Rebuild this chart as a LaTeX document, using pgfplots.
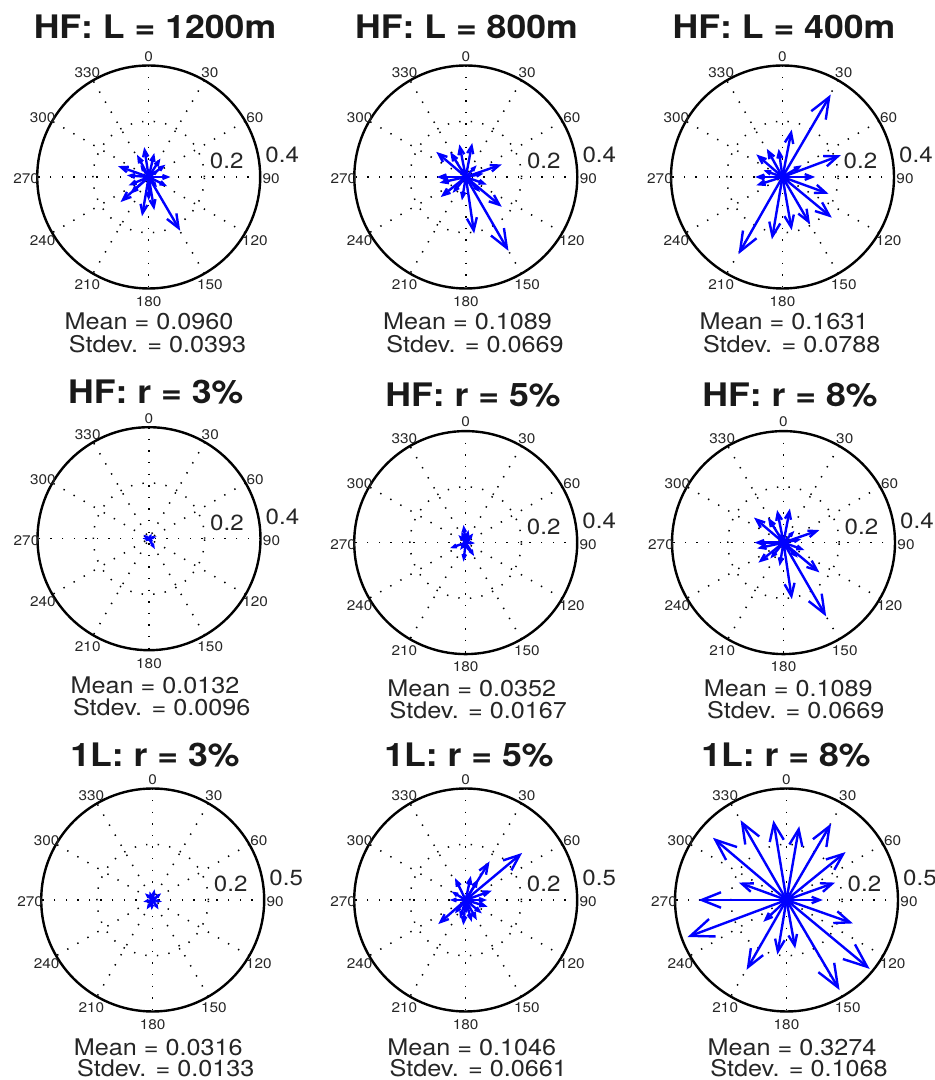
\documentclass[border=0pt]{standalone}
\usepackage{fontspec}
\setmainfont{TeX Gyre Heros}[FakeStretch=1.1]
\usepackage{pgfplots}
\usepackage{pgfplotstable}
\pgfplotsset{compat=1.18}
\usetikzlibrary{arrows.meta}

% HF: L = 1200m
\pgfplotstableread{
u v
0.113 -0.193
-0.101 -0.090
-0.024 -0.141
0.020 -0.119
-0.110 0.039
-0.016 0.107
-0.042 0.080
0.020 0.086
0.060 0.044
0.078 0.000
0.066 -0.033
-0.078 0.006
-0.072 -0.030
0.042 0.066
-0.066 -0.060
0.000 -0.084
-0.030 0.042
0.036 0.024
0.030 -0.036
}\dataA
% HF: L = 800m  (also HF: r = 8%)
\pgfplotstableread{
u v
0.153 -0.265
0.030 -0.203
0.129 -0.107
0.129 0.045
-0.106 0.090
-0.056 0.090
-0.023 0.117
0.023 0.122
-0.104 0.000
-0.094 -0.021
-0.090 -0.072
-0.047 -0.057
-0.014 -0.084
0.075 -0.027
0.063 0.012
0.051 -0.054
0.039 0.042
0.004 -0.036
-0.020 0.036
}\dataB
% HF: L = 400m
\pgfplotstableread{
u v
0.173 0.296
-0.158 -0.277
0.209 0.078
0.177 -0.146
0.165 -0.060
0.117 0.000
0.099 -0.170
0.033 -0.191
-0.038 -0.224
0.033 0.170
-0.014 0.101
-0.056 0.101
-0.094 0.081
-0.098 0.000
-0.094 -0.030
-0.068 0.024
0.069 0.042
}\dataC
% HF: r = 3%
\pgfplotstableread{
u v
0.021 -0.037
-0.020 0.014
0.010 0.018
0.027 0.008
-0.014 -0.010
0.016 -0.010
-0.023 0.001
0.003 0.012
}\dataD
% HF: r = 5%
\pgfplotstableread{
u v
-0.008 0.063
-0.056 -0.020
-0.008 -0.068
0.030 -0.048
0.033 -0.002
0.027 0.033
-0.026 0.027
-0.020 -0.026
0.010 0.045
0.012 -0.032
-0.015 0.040
0.020 0.015
}\dataE
% 1L: r = 3%
\pgfplotstableread{
u v
0.008 0.048
-0.035 0.030
0.038 0.030
-0.042 -0.008
-0.027 -0.042
0.026 -0.042
0.041 -0.008
-0.005 -0.045
-0.015 0.038
0.020 0.010
-0.020 -0.015
}\dataF
% 1L: r = 5%
\pgfplotstableread{
u v
0.253 0.211
0.107 0.173
-0.123 -0.108
0.117 0.042
-0.048 0.098
0.023 0.108
0.057 0.093
0.098 -0.030
0.095 0.000
-0.071 0.000
-0.063 0.038
-0.011 -0.113
0.027 -0.098
0.050 -0.090
0.072 -0.060
-0.048 -0.060
-0.026 -0.083
0.005 -0.060
}\dataG
% 1L: r = 8%
\pgfplotstableread{
u v
-0.330 0.279
-0.206 0.358
-0.059 0.358
0.057 0.331
0.200 0.343
0.265 0.215
0.218 0.078
0.163 0.000
0.298 -0.105
0.373 -0.309
0.238 -0.404
0.039 -0.218
-0.041 -0.245
-0.179 -0.313
-0.104 -0.098
-0.444 -0.166
-0.395 0.000
-0.214 0.078
}\dataH

\tikzset{
  gridd/.style={line width=1.5bp, dash pattern=on 1.4bp off 10.2bp, black},
  anglab/.style={font=\fontsize{14}{14}\selectfont, inner sep=0pt, text=black!85},
  rlab/.style={anchor=base west, inner sep=0pt, font=\fontsize{22}{22}\selectfont, text=black!85},
}
\newcommand\compassgrid[3]{%
  \begin{scope}[shift={(#1bp,#2bp)}]
    \foreach \a in {0,30,60,90,120,150} \draw[gridd] (90-\a:111.5bp) -- (270-\a:111.5bp);
    \draw[gridd] (0,0) circle[radius=55.75bp];
    \draw[line width=2.4bp] (0,0) circle[radius=111.5bp];
    \foreach \a in {0,30,...,330} \node[anglab] at ([yshift=-2bp]90-\a:122.5bp) {\a};
    \node[rlab] at (61bp,8bp) {0.2};
    \node[rlab] at (116.5bp,14.5bp) {#3};
  \end{scope}}
\newcommand\compassaxis[4]{%
  \begin{axis}[hide axis, scale only axis, width=223bp, height=223bp,
    xmin=-#3, xmax=#3, ymin=-#3, ymax=#3, anchor=origin, at={(#1bp,#2bp)},
    clip=false, point meta min=0, point meta max=#3]
    \addplot[blue, line width=2.4bp, line cap=round,
      point meta={sqrt(\thisrow{u}*\thisrow{u}+\thisrow{v}*\thisrow{v})},
      quiver={u=\thisrow{u}, v=\thisrow{v},
        every arrow/.append style={/utils/exec={\pgfmathsetmacro\hl{0.0245*\pgfplotspointmetatransformed}\pgfmathsetmacro\hw{0.0196*\pgfplotspointmetatransformed}},
          -{Straight Barb[length=\hl bp, width=\hw bp]}}}]
      table[x expr=0, y expr=0] {#4};
  \end{axis}}
\newcommand\ttl[3]{\node[anchor=base, inner sep=0pt, text=black!90, font=\fontsize{32.5}{32.5}\selectfont\bfseries] at (#1bp,#2bp) {#3};}
\newcommand\mtxt[3]{\node[anchor=base, inner sep=0pt, text=black!85, font=\fontsize{23}{23}\selectfont] at (#1bp,#2bp) {#3};}

\begin{document}
\begin{tikzpicture}
\useasboundingbox (0,0) rectangle (935bp,1080bp);
% Row 1
\compassgrid{148.7}{903}{0.4}
\compassgrid{465.8}{903}{0.4}
\compassgrid{782.5}{903}{0.4}
\compassaxis{148.7}{903}{0.4}{\dataA}
\compassaxis{465.8}{903}{0.4}{\dataB}
\compassaxis{782.5}{903}{0.4}{\dataC}
\ttl{155}{1041.7}{HF: L = 1200m}
\ttl{466.5}{1041.7}{HF: L = 800m}
\ttl{784}{1041.7}{HF: L = 400m}
\mtxt{149}{750}{Mean = 0.0960}
\mtxt{157.5}{727.5}{Stdev. = 0.0393}
\mtxt{467.5}{750}{Mean = 0.1089}
\mtxt{475}{727.5}{Stdev. = 0.0669}
\mtxt{784}{750}{Mean = 0.1631}
\mtxt{791.7}{727.5}{Stdev. = 0.0788}
% Row 2
\compassgrid{149}{541.3}{0.4}
\compassgrid{465.7}{537.4}{0.4}
\compassgrid{783.5}{537.4}{0.4}
\compassaxis{149}{541.3}{0.4}{\dataD}
\compassaxis{465.7}{537.4}{0.4}{\dataE}
\compassaxis{783.5}{537.4}{0.4}{\dataB}
\ttl{155.7}{676}{HF: r = 3\%}
\ttl{473}{673}{HF: r = 5\%}
\ttl{790}{673}{HF: r = 8\%}
\mtxt{155}{386.7}{Mean = 0.0132}
\mtxt{161.7}{364.5}{Stdev. = 0.0096}
\mtxt{471.7}{383.3}{Mean = 0.0352}
\mtxt{478.3}{361}{Stdev. = 0.0167}
\mtxt{788.3}{383.3}{Mean = 0.1089}
\mtxt{795.8}{361}{Stdev. = 0.0669}
% Row 3
\compassgrid{152.7}{180}{0.5}
\compassgrid{465.7}{180}{0.5}
\compassgrid{786.5}{180}{0.5}
\compassaxis{152.7}{180}{0.5}{\dataF}
\compassaxis{465.7}{180}{0.5}{\dataG}
\compassaxis{786.5}{180}{0.5}{\dataH}
\ttl{155}{313}{1L: r = 3\%}
\ttl{469}{313}{1L: r = 5\%}
\ttl{786}{313}{1L: r = 8\%}
\mtxt{158.3}{25}{Mean = 0.0316}
\mtxt{165.8}{3.5}{Stdev. = 0.0133}
\mtxt{471.7}{25}{Mean = 0.1046}
\mtxt{478.3}{3.5}{Stdev. = 0.0661}
\mtxt{792}{25}{Mean = 0.3274}
\mtxt{799}{3.5}{Stdev. = 0.1068}
\end{tikzpicture}
\end{document}
